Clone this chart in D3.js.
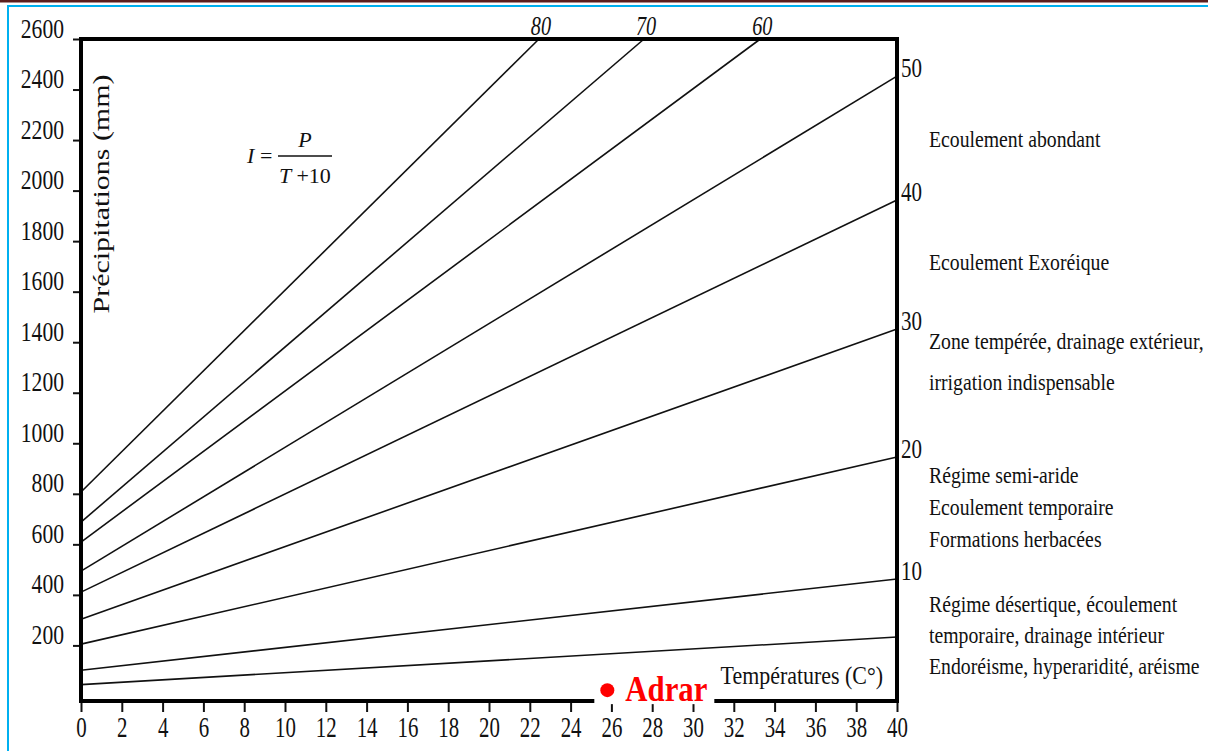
<!DOCTYPE html>
<html>
<head>
<meta charset="utf-8">
<script src="https://cdn.jsdelivr.net/npm/d3@7"></script>
<style>
  html, body { margin: 0; padding: 0; background: #fff; }
  svg { display: block; }
  text { font-family: "Liberation Serif", "Times New Roman", serif; fill: #111; }
</style>
</head>
<body>
<svg id="chart" width="1208" height="751"></svg>
<script>
// ---------- data ----------
const indexValues = [5, 10, 20, 30, 40, 50, 60, 70, 80];
const startP      = [45, 102, 205, 304, 411, 494, 609, 688, 807];   // P at T = 0
const endT        = [40, 40, 40, 40, 40, 40, 33.3, 27.6, 22.45];    // T where each line ends
const endP        = [233, 463, 946, 1452, 1963, 2453, 2600, 2600, 2600];

const rightLabelIdx = [10, 20, 30, 40, 50];
const topLabelIdx   = [60, 70, 80];

const xTicks = d3.range(0, 41, 2);
const yTicks = [200, 400, 600, 800, 1000, 1200, 1400, 1600, 1800, 2000, 2200, 2400, 2600];

const zoneLines = [
  "Ecoulement abondant",
  "Ecoulement Exoréique",
  "Zone tempérée, drainage extérieur,",
  "irrigation indispensable",
  "Régime semi-aride",
  "Ecoulement temporaire",
  "Formations herbacées",
  "Régime désertique, écoulement",
  "temporaire, drainage intérieur",
  "Endoréisme, hyperaridité, aréisme"
];
const zoneP = [2173, 1686, 1373, 1211, 843, 716, 590, 332, 210, 87]; // anchor P of each line

const station = { name: "Adrar", T: 25.8, P: 23 };

const xTitle = "Températures (C°)";
const yTitle = "Précipitations (mm)";

// ---------- layout ----------
const svg = d3.select("#chart");
const x = d3.scaleLinear().domain([0, 40]).range([81, 897]);
const y = d3.scaleLinear().domain([-20, 2600]).range([701, 39]);

// page border
svg.append("rect").attr("x", 0).attr("y", 0).attr("width", 1208).attr("height", 2.5).attr("fill", "#5b1f1f");
svg.append("line").attr("x1", 7).attr("x2", 1208).attr("y1", 6).attr("y2", 6)
  .attr("stroke", "#00b0f0").attr("stroke-width", 2);
svg.append("line").attr("x1", 8).attr("x2", 8).attr("y1", 5).attr("y2", 751)
  .attr("stroke", "#00b0f0").attr("stroke-width", 2);

// index lines
const g = svg.append("g");
g.selectAll("line.idx").data(indexValues).join("line")
  .attr("class", "idx")
  .attr("x1", (d, i) => x(0)).attr("y1", (d, i) => y(startP[i]))
  .attr("x2", (d, i) => x(endT[i])).attr("y2", (d, i) => y(endP[i]))
  .attr("stroke", "#111").attr("stroke-width", 1.6);

// axes ticks
const yAxis = svg.append("g").attr("transform", `translate(${x(0)},0)`)
  .call(d3.axisLeft(y).tickValues(yTicks).tickFormat(d3.format("d")).tickSize(8));
yAxis.select(".domain").remove();
yAxis.selectAll(".tick line").attr("stroke", "#111").attr("stroke-width", 2);
yAxis.selectAll(".tick text")
  .attr("x", null).attr("dy", null)
  .attr("text-anchor", "end")
  .attr("transform", "translate(-17,-2) scale(0.8,1)")
  .style("font-size", "27px").style("font-family", "Liberation Serif").attr("fill", "#111");

const xAxis = svg.append("g").attr("transform", `translate(0,${y(-20)})`)
  .call(d3.axisBottom(x).tickValues(xTicks).tickFormat(d3.format("d")).tickSize(11));
xAxis.select(".domain").remove();
xAxis.selectAll(".tick line").attr("stroke", "#111").attr("stroke-width", 2);
xAxis.selectAll(".tick text")
  .attr("y", null).attr("dy", null)
  .attr("text-anchor", "middle")
  .attr("transform", "translate(0,36) scale(0.72,1)")
  .style("font-size", "29px").style("font-family", "Liberation Serif").attr("fill", "#111");

// frame
svg.append("rect")
  .attr("x", x(0)).attr("y", y(2600))
  .attr("width", x(40) - x(0)).attr("height", y(-20) - y(2600))
  .attr("fill", "none").attr("stroke", "#000").attr("stroke-width", 4);

// right index labels
svg.selectAll("text.ridx").data(rightLabelIdx).join("text")
  .attr("class", "ridx")
  .attr("transform", d => {
    const i = indexValues.indexOf(d);
    return `translate(${x(40) + 4},${y(endP[i]) + 1}) scale(0.75,1)`;
  })
  .style("font-size", "28px")
  .text(d => d);

// top index labels
svg.selectAll("text.tidx").data(topLabelIdx).join("text")
  .attr("class", "tidx")
  .attr("text-anchor", "middle")
  .attr("transform", d => {
    const i = indexValues.indexOf(d);
    return `translate(${x(endT[i]) + 2},${y(2600) - 4}) scale(0.75,1)`;
  })
  .style("font-size", "27px").style("font-style", "italic")
  .text(d => d);

// zone descriptions
svg.selectAll("text.zone").data(zoneLines).join("text")
  .attr("class", "zone")
  .attr("transform", (d, i) => `translate(${x(40) + 32},${y(zoneP[i])}) scale(0.84,1)`)
  .style("font-size", "23.5px")
  .text(d => d);

// formula
const f = svg.append("g").style("font-size", "22px");
f.append("text").attr("x", 247).attr("y", 163).style("font-style", "italic").text("I");
f.append("text").attr("x", 260).attr("y", 163).text("=");
f.append("line").attr("x1", 278).attr("x2", 332).attr("y1", 156).attr("y2", 156)
  .attr("stroke", "#111").attr("stroke-width", 1.4);
f.append("text").attr("x", 305).attr("y", 147).attr("text-anchor", "middle")
  .style("font-style", "italic").text("P");
const den = f.append("text").attr("x", 305).attr("y", 183).attr("text-anchor", "middle");
den.append("tspan").style("font-style", "italic").text("T ");
den.append("tspan").text("+10");

// x title
svg.append("text")
  .attr("text-anchor", "end")
  .attr("transform", `translate(${x(40) - 14},${y(-20) - 17}) scale(0.86,1)`)
  .style("font-size", "25.5px")
  .text(xTitle);

// y title
svg.append("text")
  .attr("text-anchor", "middle")
  .attr("transform", "translate(109,194) scale(0.8,1) rotate(-90)")
  .style("font-size", "30px")
  .text(yTitle);

// station
const sx = x(station.T), sy = y(station.P);
svg.append("rect").attr("x", sx - 13).attr("y", sy - 16)
  .attr("width", 120).attr("height", 30).attr("fill", "#fff");
svg.append("circle").attr("cx", sx).attr("cy", sy).attr("r", 7).attr("fill", "#ff0000");
svg.append("text")
  .attr("transform", `translate(${sx + 18},${sy + 11}) scale(0.88,1)`)
  .style("font-size", "35px").style("font-weight", "bold")
  .attr("fill", "#ff0000").style("fill", "#ff0000")
  .text(station.name);
</script>
</body>
</html>
